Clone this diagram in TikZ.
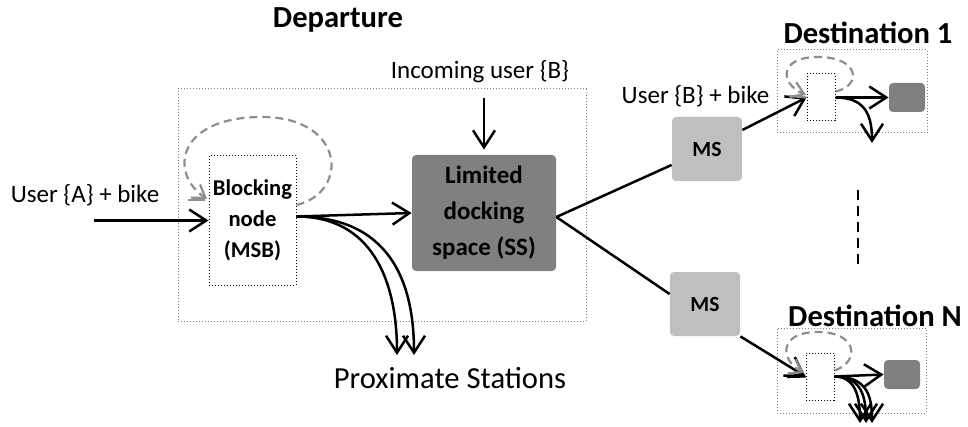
\documentclass[tikz,border=0pt]{standalone}
\usepackage{fontspec}
\setmainfont{Carlito}
\usepackage{tikz}
\usetikzlibrary{positioning,arrows.meta}
\definecolor{ssgray}{HTML}{808080}
\definecolor{msgray}{HTML}{BFBFBF}
\definecolor{loopgray}{HTML}{8E8E8E}
\definecolor{framegray}{HTML}{7F7F7F}

\begin{document}
\begin{tikzpicture}[
    x=0.5pt, y=-0.5pt,
    station/.style={%
      draw=framegray,
      densely dotted,
      line width=0.5pt,
      rectangle,
      inner sep=0pt,
    },
    blocker/.style={%
      draw,
      densely dotted,
      line width=0.5pt,
      rectangle,
      inner sep=0pt,
      align=center,
      font=\bfseries\fontsize{11.3}{15.5}\selectfont,
    },
    dock/.style={%
      fill=ssgray,
      rectangle,
      rounded corners=2pt,
      inner sep=0pt,
      align=center,
      font=\bfseries\fontsize{12.5}{18}\selectfont,
    },
    relay/.style={%
      fill=msgray,
      rectangle,
      rounded corners=2pt,
      minimum width=35pt,
      minimum height=32pt,
      font=\bfseries\fontsize{10.8}{13}\selectfont,
    },
    heading/.style={font=\bfseries\fontsize{15.3}{18}\selectfont},
    txt/.style={font=\fontsize{12.5}{15}\selectfont},
    flow/.style={line width=1.25pt, -{Straight Barb[length=8.5pt,width=11pt]}},
    edge/.style={line width=1.25pt},
    selfloop/.style={%
      draw=loopgray,
      line width=1.1pt,
      dash pattern=on 4pt off 2.5pt,
      -{Straight Barb[length=6pt,width=8pt]},
    },
  ]

    \useasboundingbox (0,0) rectangle (968,427);

    \node [heading] (dep) at (338,20) {Departure};
    \node [station, minimum width=204pt, minimum height=116pt] (D) at (382,205) {};
    \node [blocker, minimum width=43.5pt, minimum height=64.5pt] (B) at (252.5,220.5) {Blocking\\node\\(MSB)};
    \node [dock, minimum width=72pt, minimum height=58pt] (S) at (484,213) {Limited\\docking\\space (SS)};
    \node [txt] (inc) at (480,72) {Incoming user \{B\}};
    \node [txt] (ua) at (85,195) {User \{A\} + bike};
    \node [font=\fontsize{15.3}{18}\selectfont] (prox) at (450,378) {Proximate Stations};
    \node [relay] (M1) at (707,149) {MS};
    \node [relay] (M2) at (705,304) {MS};
    \node [txt] (ub) at (695.5,96) {User \{B\} + bike};

    \node [heading] (d1) at (868,33) {Destination 1};
    \node [station, minimum width=75pt, minimum height=41.5pt] (D1) at (852,91.5) {};
    \path (D1) ++(-31,6) node [blocker, minimum width=14pt, minimum height=23.5pt] (B1) {};
    \path (D1) ++(55,6) node [dock, minimum width=18pt, minimum height=14.5pt] (S1) {};

    \node [heading] (dn) at (875,316) {Destination N};
    \node [station, minimum width=74.5pt, minimum height=42.5pt] (DN) at (851.5,370.5) {};
    \path (DN) ++(-31.5,6) node [blocker, minimum width=14pt, minimum height=23.5pt] (BN) {};
    \path (DN) ++(50.5,4) node [dock, minimum width=18pt, minimum height=14.5pt] (SN) {};

    \coordinate (a0) at (94,220.5);
    \coordinate (out) at ([yshift=2pt]B.east);
    \coordinate (p1) at (397,355);
    \coordinate (p2) at (414,355);
    \coordinate (fork) at ([yshift=-2pt]S.east);
    \coordinate (g0) at (188,200);
    \coordinate (g1) at (789,96);
    \coordinate (gN) at (787,377);
    \coordinate (q1) at (872,143);
    \coordinate (r1) at (860,423);
    \coordinate (r2) at (866,423);
    \coordinate (r3) at (872,423);
    \coordinate (v0) at (858,190);
    \coordinate (v1) at (858,267);

    \draw [flow] (a0) -- (B);
    \draw [line width=1.1pt, loopgray] (g0) -- (205,200);
    \draw [selfloop] ([yshift=7.75pt]B.east) .. controls (350,192) and (345,117) .. (262,117) .. controls (178,117) and (168,172) .. (207,199);
    \draw [flow, shorten <=4pt, shorten >=2.5pt] (S.north |- inc.south) -- (S.north);
    \draw [flow] (out) -- (S.west);
    \draw [flow] (out) .. controls +(75,0) and +(0,-75) .. (p1);
    \draw [flow] (out) .. controls +(92,0) and +(0,-75) .. (p2);
    \draw [edge] (fork) -- (M1);
    \draw [edge] (fork) -- ([yshift=5pt]M2.west);

    \draw [flow] ([yshift=9.5pt]M1.east) -- (B1.west);
    \draw [line width=1.1pt, loopgray] (g1) -- (B1.west);
    \draw [selfloop] ([yshift=3pt]B1.east) .. controls (862,86) and (860,57) .. (818,57) .. controls (778,57) and (780,84) .. (806,95);
    \draw [flow] (B1.east) -- (S1.west);
    \draw [flow] (B1.east) .. controls +(28,0) and +(0,-30) .. (q1);

    \draw [line width=0.9pt, dashed, dash pattern=on 5pt off 3pt] (v0) -- (v1);

    \draw [flow] (M2.south east) -- (BN.west);
    \draw [line width=1.1pt] (gN) -- (BN.west);
    \draw [selfloop] ([yshift=3pt]BN.east) .. controls (860,362) and (858,332) .. (818,332) .. controls (778,332) and (780,360) .. (804,373);
    \draw [flow] (BN.east) -- (SN.west);
    \draw [flow] (BN.east) .. controls +(20,0) and +(0,-28) .. (r1);
    \draw [flow] (BN.east) .. controls +(26,0) and +(0,-28) .. (r2);
    \draw [flow] (BN.east) .. controls +(32,0) and +(0,-28) .. (r3);
\end{tikzpicture}
\end{document}
